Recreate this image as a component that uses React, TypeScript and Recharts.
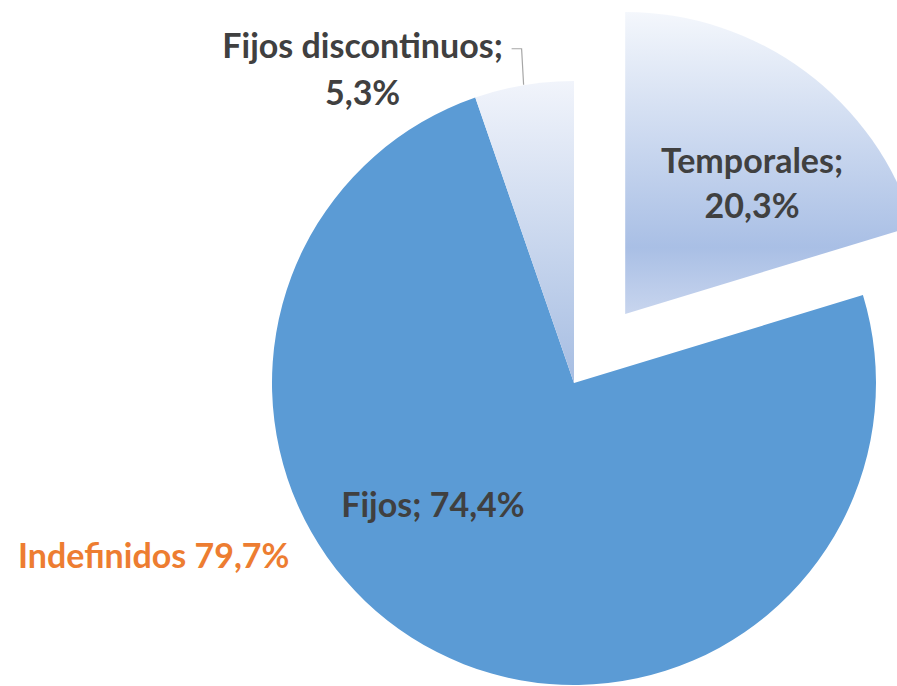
import React from "react";
import { PieChart, Pie, Cell } from "recharts";

const categories = ["Temporales", "Fijos", "Fijos discontinuos"];
const shares = [20.3, 74.4, 5.3];
const shareLabels = ["20,3%", "74,4%", "5,3%"];
const summaryLabel = "Indefinidos 79,7%";

const data = categories.map((name, i) => ({ name, value: shares[i], text: shareLabels[i] }));

const W = 897;
const H = 686;
const CX = 574;
const CY = 383;
const R = 302;
const EXPLODE = 86;
const FONT = "Lato, 'Open Sans', sans-serif";
const FS = 34;
const TEXT = "#404040";

// temporales slice is pulled out along its mid angle
const midDeg = 90 - (shares[0] / 100) * 360 / 2;
const exCx = CX + EXPLODE * Math.cos((midDeg * Math.PI) / 180);
const exCy = CY - EXPLODE * Math.sin((midDeg * Math.PI) / 180);

const fills = ["url(#gradTemp)", "#5b9bd5", "url(#gradDisc)"];
const labelStyle = { fontFamily: FONT, fontWeight: 700, fontSize: FS, fill: TEXT } as any;

function renderLabel(props: any) {
  const { cx, cy, outerRadius, index, payload } = props;
  const name = payload?.name ?? categories[index];
  const text = payload?.text ?? shareLabels[index];
  if (index === 1) {
    return (
      <text x={cx - outerRadius * 0.467} y={cy + outerRadius * 0.4} textAnchor="middle" dominantBaseline="central" style={labelStyle}>
        {name}; {text}
      </text>
    );
  }
  if (index === 2) {
    const x = cx - outerRadius * 0.70;
    const y = cy - outerRadius * 1.12;
    return (
      <g>
        <polyline
          points={`${x + 149},${y + 4} ${x + 159},${y + 4} ${x + 161},${y + 40}`}
          fill="none"
          stroke="#a6a6a6"
          strokeWidth={1.2}
        />
        <text x={x} y={y} textAnchor="middle" dominantBaseline="central" style={labelStyle}>
          {name};
        </text>
        <text x={x} y={y + 47} textAnchor="middle" dominantBaseline="central" style={labelStyle}>
          {text}
        </text>
      </g>
    );
  }
  return null;
}

function renderTempLabel(props: any) {
  const { cx, cy, outerRadius, index, payload } = props;
  if (index !== 0) return null;
  const x = cx + outerRadius * 0.42;
  const y = cy - outerRadius * 0.51;
  return (
    <g>
      <text x={x} y={y} textAnchor="middle" dominantBaseline="central" style={labelStyle}>
        {payload?.name ?? categories[0]};
      </text>
      <text x={x} y={y + 45} textAnchor="middle" dominantBaseline="central" style={labelStyle}>
        {payload?.text ?? shareLabels[0]}
      </text>
    </g>
  );
}

export default function App() {
  return (
    <div style={{ position: "fixed", left: 0, top: 0, width: W, height: H, background: "#fff", overflow: "hidden" }}>
      <PieChart width={W} height={H} margin={{ top: 0, right: 0, bottom: 0, left: 0 }}>
        <defs>
          <linearGradient id="gradTemp" x1="0" y1="0" x2="0" y2="1">
            <stop offset="0%" stopColor="#f4f7fc" />
            <stop offset="78%" stopColor="#a9bfe5" />
            <stop offset="100%" stopColor="#c8d5ee" />
          </linearGradient>
          <linearGradient id="gradDisc" x1="0" y1="0" x2="0" y2="1">
            <stop offset="0%" stopColor="#f1f4fb" />
            <stop offset="100%" stopColor="#a6bde2" />
          </linearGradient>
        </defs>
        <Pie
          data={data}
          dataKey="value"
          cx={CX}
          cy={CY}
          outerRadius={R}
          startAngle={90}
          endAngle={-270}
          stroke="none"
          label={renderLabel}
          labelLine={false}
          isAnimationActive={false}
        >
          {data.map((d, i) => (
            <Cell key={d.name} fill={i === 0 ? "none" : fills[i]} />
          ))}
        </Pie>
        <Pie
          data={data}
          dataKey="value"
          cx={exCx}
          cy={exCy}
          outerRadius={R}
          startAngle={90}
          endAngle={-270}
          stroke="none"
          label={renderTempLabel}
          labelLine={false}
          isAnimationActive={false}
        >
          {data.map((d, i) => (
            <Cell key={d.name} fill={i === 0 ? fills[0] : "none"} />
          ))}
        </Pie>
      </PieChart>
      <div
        style={{
          position: "absolute",
          left: 18,
          top: 533,
          fontFamily: FONT,
          fontWeight: 700,
          fontSize: FS,
          color: "#ed7d31",
          whiteSpace: "nowrap",
          lineHeight: "44px",
        }}
      >
        {summaryLabel}
      </div>
    </div>
  );
}
